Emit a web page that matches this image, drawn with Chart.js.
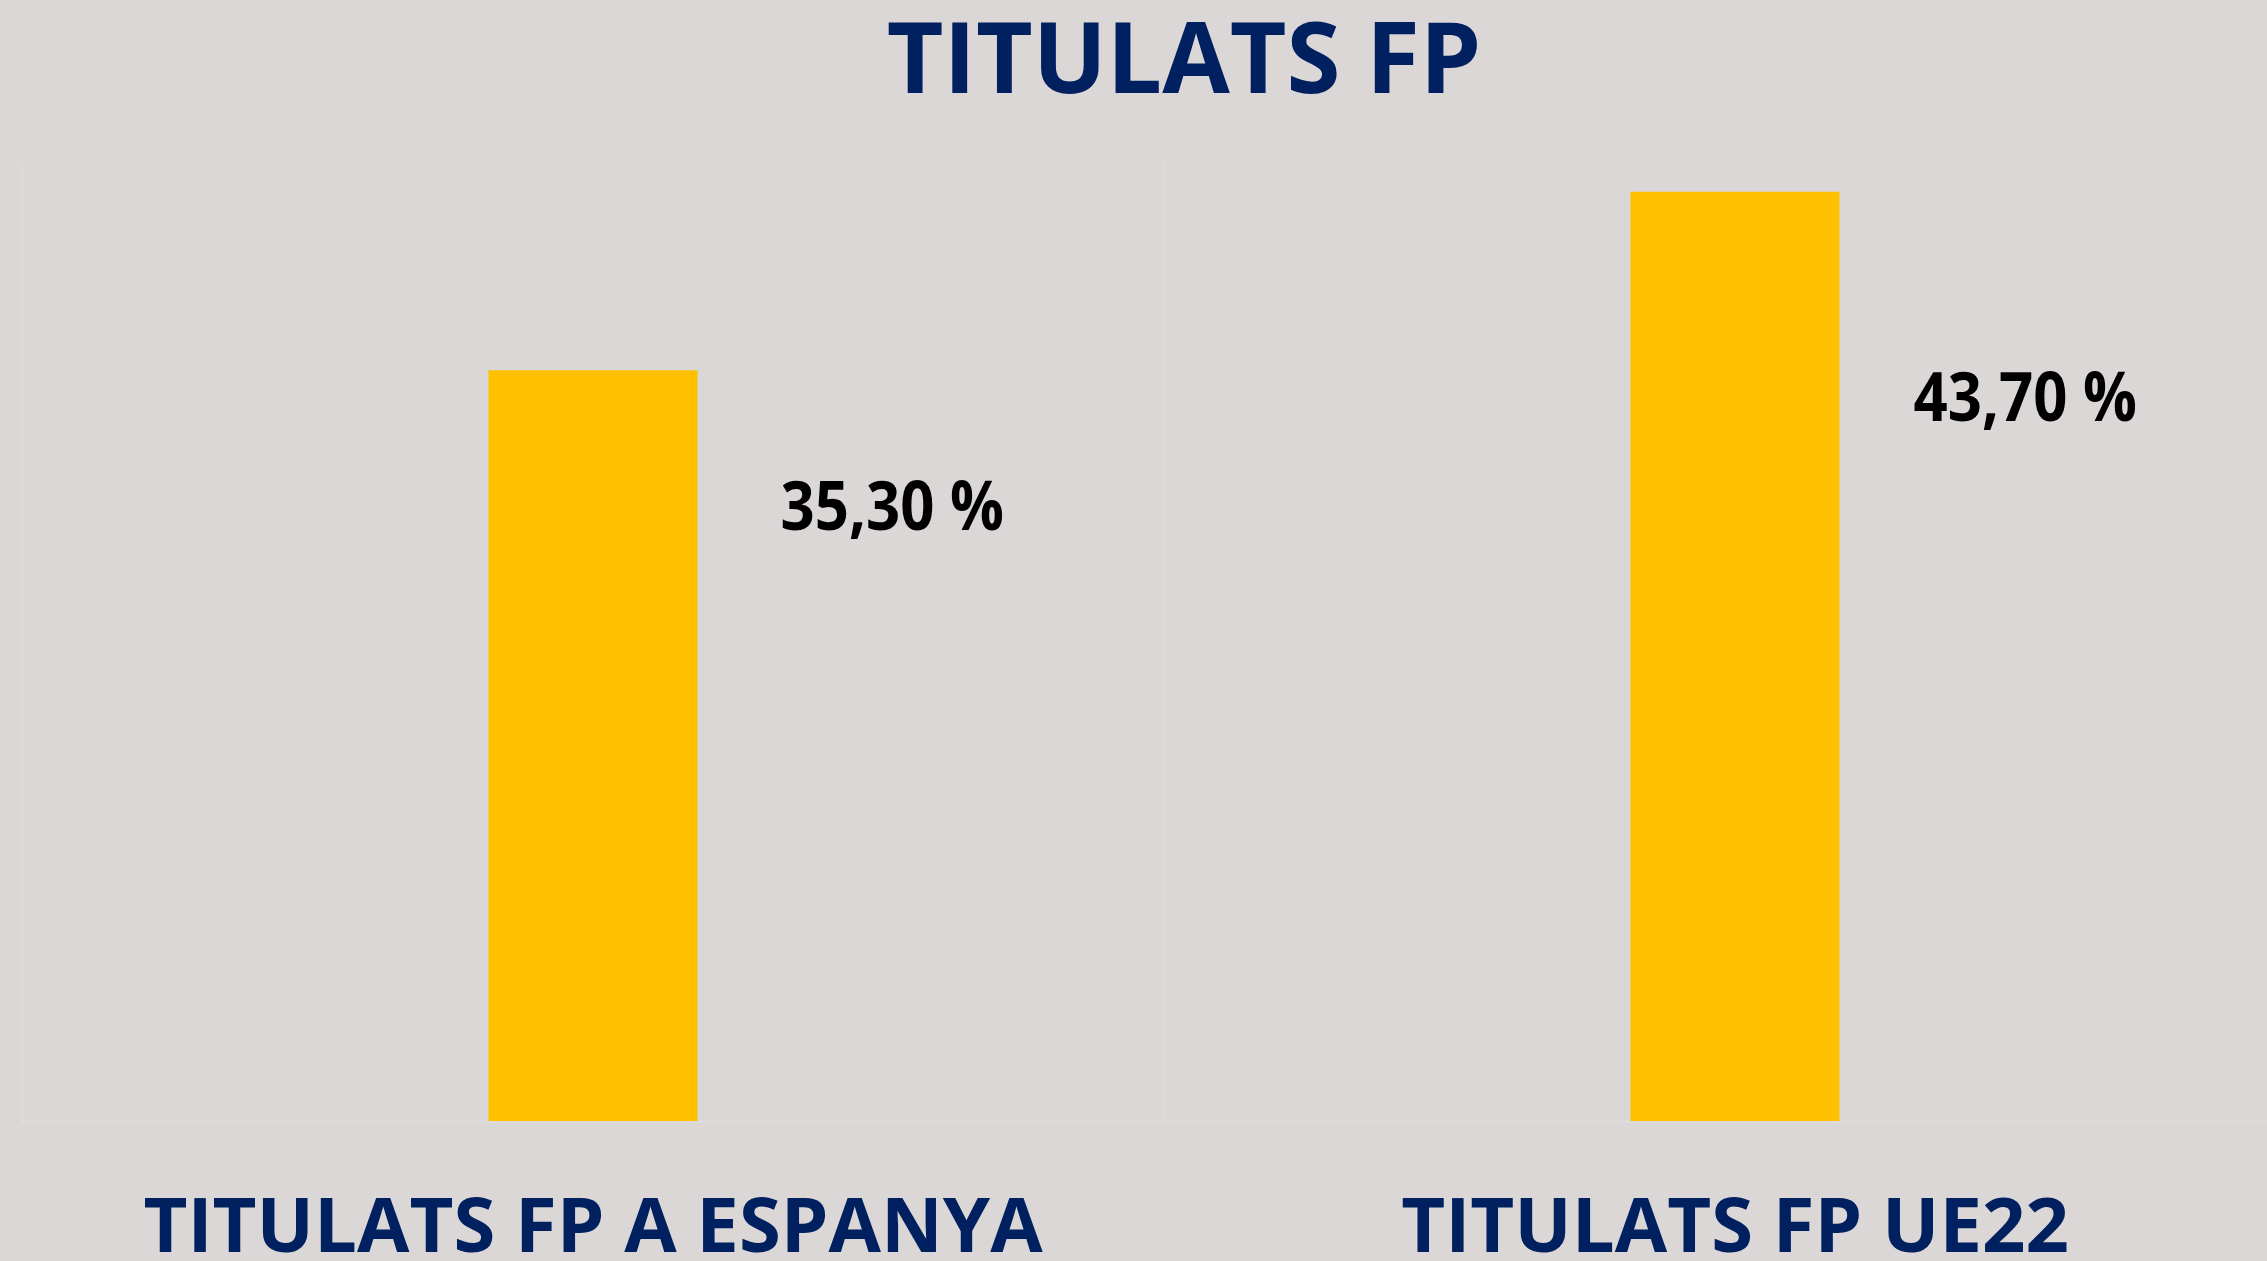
<!DOCTYPE html>
<html>
<head>
<meta charset="utf-8">
<script src="https://cdn.jsdelivr.net/npm/chart.js@4.4.1/dist/chart.umd.min.js"></script>
<style>
  html, body { margin: 0; padding: 0; background: #dad7d6; overflow: hidden; }
  #wrap { width: 2310px; height: 1261px; }
</style>
</head>
<body>
<div id="wrap"><canvas id="fpChart"></canvas></div>
<script>
// data
const categories = ['TITULATS FP A ESPANYA', 'TITULATS FP UE22'];
const values = [35.3, 43.7];
const chartTitle = 'TITULATS FP';

// value labels drawn to the right of each bar
const valueLabels = {
    id: 'valueLabels',
    afterDatasetsDraw(chart, args, opts) {
        const ctx = chart.ctx;
        const meta = chart.getDatasetMeta(0);
        ctx.save();
        ctx.fillStyle = '#000000';
        ctx.font = 'bold 68px "Open Sans"';
        ctx.textBaseline = 'middle';
        ctx.textAlign = 'left';
        meta.data.forEach((bar, i) => {
            const txt = values[i].toFixed(2).replace('.', ',') + ' %';
            const x = bar.x + bar.width / 2 + opts.dx[i];
            const y = bar.y + opts.dy[i];
            ctx.save();
            ctx.translate(x, y);
            ctx.scale(0.88, 1);
            ctx.fillText(txt, 0, 0);
            ctx.restore();
        });
        ctx.restore();
    }
};

// shift the title a bit right, as in the original slide
const titleShift = {
    id: 'titleShift',
    beforeDraw(chart) {
        chart.titleBlock.left += 20;
        chart.titleBlock.right += 20;
    }
};

Chart.defaults.font.family = '"Open Sans", sans-serif';

const ctx = document.getElementById('fpChart');
new Chart(ctx, {
    type: 'bar',
    data: {
        labels: categories,
        datasets: [{
            label: chartTitle,
            data: values,
            backgroundColor: '#ffc000',
            borderWidth: 0,
            categoryPercentage: 1,
            barPercentage: 0.183
        }]
    },
    options: {
        responsive: true,
        maintainAspectRatio: false,
        animation: false,
        layout: { padding: { left: 22, right: 4, top: 0, bottom: 0 } },
        plugins: {
            legend: { display: false },
            tooltip: { enabled: false },
            title: {
                display: true,
                text: chartTitle,
                fullSize: false,
                color: '#002060',
                font: { size: 98, weight: 'bold', lineHeight: 1 },
                padding: { top: 16, bottom: 50 }
            },
            valueLabels: { dx: [83, 74], dy: [140, 210] }
        },
        scales: {
            x: {
                afterFit: (s) => { s.height = 140; },
                grid: {
                    offset: true,
                    drawTicks: false,
                    color: '#dedcdb',
                    lineWidth: 2
                },
                border: { color: '#dedcdb', width: 3 },
                ticks: {
                    color: '#002060',
                    padding: 71,
                    font: { size: 76, weight: 'bold', lineHeight: 1 }
                }
            },
            y: {
                display: false,
                min: 0,
                max: 45
            }
        }
    },
    plugins: [valueLabels, titleShift]
});
</script>
</body>
</html>
